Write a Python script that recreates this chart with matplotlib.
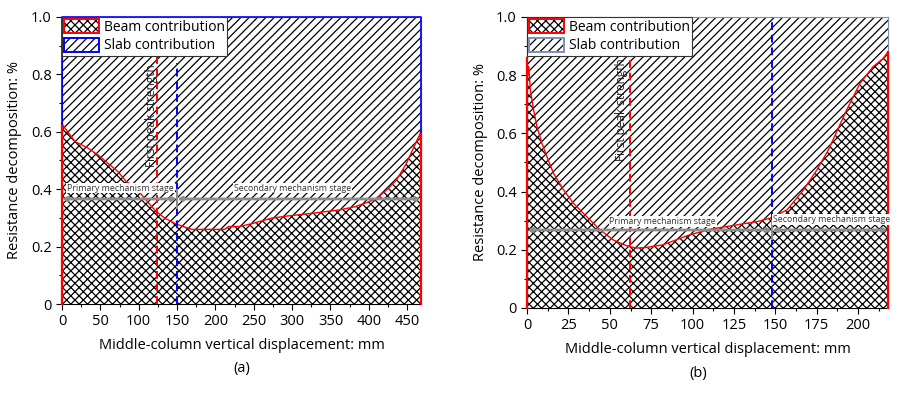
import matplotlib
matplotlib.use("Agg")
import matplotlib.pyplot as plt
from matplotlib.patches import Patch
from matplotlib.ticker import MultipleLocator

plt.rcParams['font.family'] = ['Open Sans', 'DejaVu Sans']
plt.rcParams['hatch.linewidth'] = 0.9
plt.rcParams['hatch.color'] = 'black'

# ---------------- data ----------------
a_disp = [0, 17, 34, 47, 60, 73, 84, 95, 104, 117, 123, 134, 147, 156, 169, 190,
          212, 217, 232, 249, 273, 295, 332, 362, 382, 397, 410, 423, 436, 449, 458, 468]
a_beam = [0.627, 0.566, 0.543, 0.519, 0.49, 0.461, 0.426, 0.409, 0.38, 0.339, 0.322,
          0.299, 0.281, 0.272, 0.26, 0.26, 0.26, 0.27, 0.27, 0.281, 0.299, 0.307,
          0.318, 0.328, 0.339, 0.353, 0.368, 0.397, 0.432, 0.49, 0.543, 0.60]

b_disp = [0, 0.5, 1, 2, 4, 6, 9, 12, 16, 22, 28, 36, 44, 52, 60, 66, 72, 82, 98,
          111, 127, 139, 147, 157, 167, 175, 182, 193, 201, 209, 215, 218]
b_beam = [0.86, 0.80, 0.83, 0.75, 0.68, 0.623, 0.566, 0.52, 0.463, 0.406, 0.36, 0.314,
          0.269, 0.234, 0.214, 0.206, 0.208, 0.217, 0.251, 0.271, 0.286, 0.297, 0.309,
          0.337, 0.406, 0.474, 0.543, 0.68, 0.771, 0.829, 0.857, 0.88]

a_xmax, b_xmax = 468, 218
a_peak, a_stage = 124, 150
b_peak, b_stage = 62, 148
a_arrow_y, b_arrow_y = 0.366, 0.268

legend_labels = ['Beam contribution', 'Slab contribution']
xlabel = 'Middle-column vertical displacement: mm'
ylabel = 'Resistance decomposition: %'

BEAM_HATCH = 'xxxx'
SLAB_HATCH = '////'

fig = plt.figure(figsize=(9.06, 3.94), dpi=100)
axA = fig.add_axes([0.0684, 0.2284, 0.3963, 0.7285])
axB = fig.add_axes([0.5817, 0.2183, 0.3984, 0.7386])


def draw_panel(ax, x, beam, xmax, peak, stage, peak_top, stage_top, arrow_y,
               xmajor, xminor, slab_edge, prim_xy, sec_xy, peak_text_x, peak_text_y,
               tag, tagx):
    ax.set_xlim(0, xmax)
    ax.set_ylim(0, 1.0)
    ax.fill_between(x, 0, beam, facecolor='white', edgecolor='black', hatch=BEAM_HATCH,
                    linewidth=0, zorder=1)
    ax.fill_between(x, beam, 1.0, facecolor='white', edgecolor='black', hatch=SLAB_HATCH,
                    linewidth=0, zorder=1)
    ax.plot(x, beam, color='red', lw=1.0, zorder=3)
    # edge outlines
    ax.plot([0, 0], [0, beam[0]], color='red', lw=1.6, zorder=5, clip_on=False)
    ax.plot([xmax, xmax], [0, beam[-1]], color='red', lw=1.6, zorder=5, clip_on=False)
    if slab_edge is not None:
        ax.plot([0, 0, xmax, xmax], [beam[0], 1.0, 1.0, beam[-1]], color=slab_edge,
                lw=1.2, zorder=5, clip_on=False)
    # dashed lines
    ax.plot([peak, peak], [0, peak_top], color='red', lw=1.4, ls=(0, (4, 2.5)), zorder=4)
    ax.plot([stage, stage], [0, stage_top], color='blue', lw=1.4, ls=(0, (4, 2.5)), zorder=4)
    # stage arrows
    ap = dict(arrowstyle='<|-|>', color='#8c8c8c', lw=2.0, mutation_scale=6,
              shrinkA=0, shrinkB=0)
    ax.annotate('', xy=(0, arrow_y), xytext=(stage, arrow_y), arrowprops=ap, zorder=6)
    ax.annotate('', xy=(stage, arrow_y), xytext=(xmax, arrow_y), arrowprops=ap, zorder=6)
    ax.plot([stage, stage], [arrow_y - 0.03, arrow_y + 0.03], color='#8c8c8c', lw=1.5, zorder=6)
    bb = dict(facecolor='white', edgecolor='none', pad=0.6)
    ax.text(prim_xy[0], prim_xy[1], 'Primary mechanism stage', fontsize=6.3,
            color='#333333', ha='center', va='center', bbox=bb, zorder=7)
    ax.text(sec_xy[0], sec_xy[1], 'Secondary mechanism stage', fontsize=6.3,
            color='#333333', ha='center', va='center', bbox=bb, zorder=7)
    ax.text(peak_text_x, peak_text_y, 'First peak strength', rotation=90, fontsize=8.5,
            color='#222222', ha='center', va='center', zorder=7)
    # ticks
    ax.xaxis.set_major_locator(MultipleLocator(xmajor))
    ax.xaxis.set_minor_locator(MultipleLocator(xminor))
    ax.yaxis.set_major_locator(MultipleLocator(0.2))
    ax.yaxis.set_minor_locator(MultipleLocator(0.1))
    ax.set_yticks([0, 0.2, 0.4, 0.6, 0.8, 1.0])
    ax.set_yticklabels(['0', '0.2', '0.4', '0.6', '0.8', '1.0'])
    ax.tick_params(which='both', direction='out', top=False, right=False,
                   labelsize=10.5, width=0.8)
    ax.tick_params(which='major', length=4)
    ax.tick_params(which='minor', length=2.5)
    sec = ax.secondary_xaxis('top')
    sec.xaxis.set_major_locator(MultipleLocator(xmajor))
    sec.tick_params(direction='in', length=3, labeltop=False, width=0.6)
    sec.spines['top'].set_visible(False)
    secy = ax.secondary_yaxis('right')
    secy.yaxis.set_major_locator(MultipleLocator(0.2))
    secy.yaxis.set_minor_locator(MultipleLocator(0.1))
    secy.tick_params(which='both', direction='in', length=3, labelright=False, width=0.6)
    secy.spines['right'].set_visible(False)
    for s in ['top', 'right']:
        ax.spines[s].set_color('#7f8fb0')
        ax.spines[s].set_linewidth(0.8)
    ax.set_xlabel(xlabel, fontsize=10.5, labelpad=6)
    ax.set_ylabel(ylabel, fontsize=10.5, labelpad=6)
    ax.text(tagx, -0.225, tag, transform=ax.transAxes, fontsize=10.5, ha='center',
            va='center')


draw_panel(axA, a_disp, a_beam, a_xmax, a_peak, a_stage, 0.875, 0.84, a_arrow_y,
           50, 25, 'blue', (76, 0.404), (301, 0.404), 117, 0.655, '(a)', 0.5)
draw_panel(axB, b_disp, b_beam, b_xmax, b_peak, b_stage, 0.86, 1.0, b_arrow_y,
           25, 12.5, None, (82, 0.297), (184, 0.303), 57, 0.68, '(b)', 0.475)


def legend_handles(slab_edge):
    beam = (Patch(facecolor='white', edgecolor='black', hatch=BEAM_HATCH, lw=0),
            Patch(facecolor='none', edgecolor='red', lw=1.4))
    slab = (Patch(facecolor='white', edgecolor='black', hatch=SLAB_HATCH, lw=0),
            Patch(facecolor='none', edgecolor=slab_edge, lw=1.4))
    return [beam, slab]


for ax, edge in [(axA, 'blue'), (axB, '#7f8fb0')]:
    leg = ax.legend(legend_handles(edge), legend_labels, loc='upper left',
                    fontsize=10, frameon=True, fancybox=False, framealpha=1,
                    edgecolor='#333333', borderaxespad=0, handlelength=2.5,
                    handleheight=1.2, handletextpad=0.35, labelspacing=0.2,
                    borderpad=0.15)
    leg.get_frame().set_linewidth(0.8)
    leg.set_zorder(10)

fig.savefig('out.png', dpi=100)
